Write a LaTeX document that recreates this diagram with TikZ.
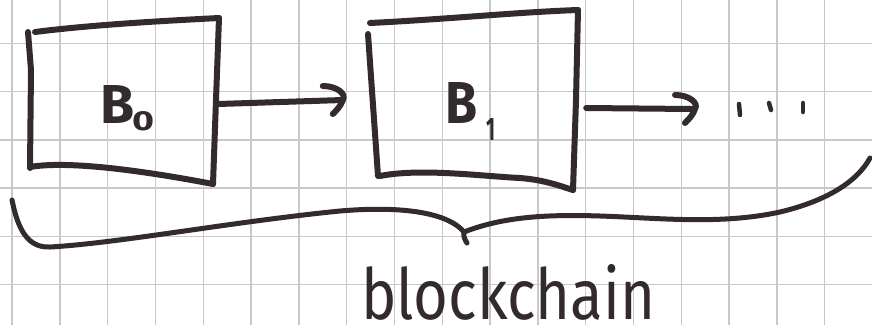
\documentclass[tikz,border=0pt]{standalone}
\usepackage{fontspec}
\setmainfont{Fira Sans}
\usepackage{graphicx}
\definecolor{ink}{RGB}{50,42,46}
\definecolor{gridc}{RGB}{200,200,200}
\tikzset{
  inkline/.style={draw=ink, line width=6pt, line cap=round, line join=round},
  braceline/.style={draw=ink, line width=5pt, line cap=round, line join=round},
  thinink/.style={draw=ink, line width=4.5pt, line cap=round, line join=round},
  gridline/.style={draw=gridc, line width=1.4pt},
  boxnode/.style={draw=none, inner sep=0pt},
  hhead/.pic={\draw[inkline] (-20,-14) .. controls (-6,-14) and (4,-6) .. (0,0) .. controls (-2,6) and (-6,10) .. (-10,14);}
}
\begin{document}
\begin{tikzpicture}[x=1pt,y=-1pt]
\useasboundingbox (0,0) rectangle (872,325);
\fill[white] (0,0) rectangle (872,325);
% grid paper
\foreach \k in {0,...,18} \draw[gridline] ({12+47.8*\k},0) -- ({12+47.8*\k},325);
\foreach \k in {0,...,6} \draw[gridline] (0,{43.5+48.2*\k}) -- (872,{43.5+48.2*\k});

% boxes (invisible frames, outlines drawn by hand below)
\node[boxnode, minimum width=190pt, minimum height=155pt] (b0) at (123,103) {};
\node[boxnode, minimum width=210pt, minimum height=170pt] (b1) at (473,100) {};

% B0 outline
\draw[inkline] (28,32) -- (31,70) -- (30,168);
\draw[inkline] (35,32) .. controls (90,25) and (160,21) .. (219,18);
\draw[inkline] (219,18) -- (216,100) -- (213,184);
\draw[inkline] (30,167) .. controls (70,160) and (150,172) .. (213,184);
% B1 outline
\draw[inkline] (370,23) .. controls (450,19) and (520,12) .. (578,10);
\draw[inkline] (368,34) -- (378,176);
\draw[inkline] (380,176) .. controls (420,168) and (480,176) .. (520,178) .. controls (545,180) and (560,186) .. (573,190);
\draw[inkline] (578,10) -- (576,100) -- (573,190);

% labels
\node[inner sep=0pt, anchor=base west, text=ink] (l0) at (100,123)
  {\bfseries\resizebox{34pt}{38pt}{B}\hspace{-2pt}\raisebox{-7pt}{\resizebox{22pt}{19pt}{0}}};
\node[inner sep=0pt, anchor=base west, text=ink] (l1) at (445,123)
  {\bfseries\resizebox{32pt}{41pt}{B}\hspace{9pt}\raisebox{-17pt}{\resizebox{9pt}{22pt}{1}}};

% arrows
\coordinate (a1s) at ([yshift=-1pt]b0.east);
\coordinate (a1e) at ([xshift=-25pt]b1.west);
\draw[inkline] (a1s) -- (a1e);
\pic at (a1e) {hhead};
\coordinate (a2s) at ([xshift=8pt,yshift=-8pt]b1.east);
\coordinate (a2e) at (695,109);
\draw[inkline] (a2s) -- ([xshift=-3pt]a2e);
\pic at (a2e) {hhead};

% dots
\draw[thinink] (739,104) -- (740,115);
\draw[thinink] (769,103) -- (771,110);
\draw[thinink] (803,103) -- (803,112);

% brace
\coordinate (brL) at (12,200);
\coordinate (brM) at (464,232);
\coordinate (brR) at (870,158);
\draw[braceline] (brL) .. controls (18,230) and (28,248) .. (50,247)
  .. controls (120,243) and (230,222) .. (340,211)
  .. controls (410,205) and (450,215) .. (brM);
\draw[braceline] (brM) .. controls (463,236) and (465,240) .. (467,243);
\draw[braceline] (brM) .. controls (500,218) and (540,214) .. (600,216)
  .. controls (660,218) and (720,225) .. (780,212)
  .. controls (830,200) and (858,180) .. (brR);
\node[inner sep=0pt, anchor=base west, text=ink] (lbl) at (361,319)
  {\resizebox{294pt}{55pt}{blockchain}};
\end{tikzpicture}
\end{document}
